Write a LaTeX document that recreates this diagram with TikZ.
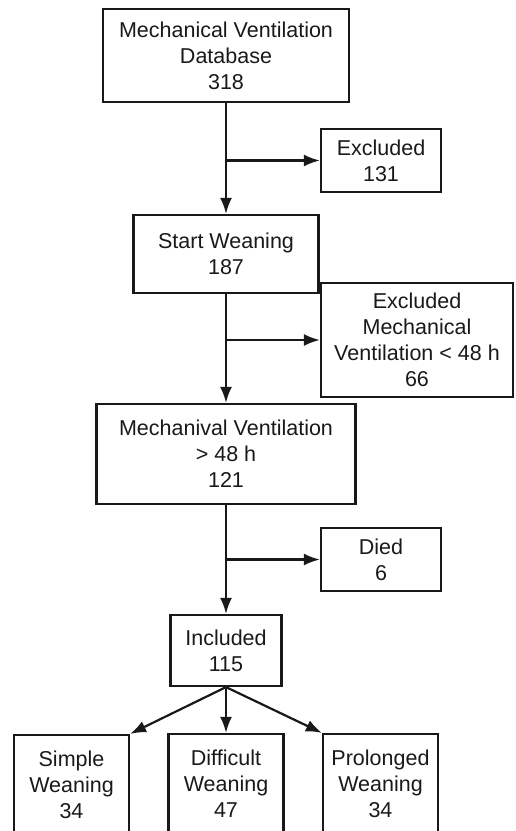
\documentclass[tikz,border=0pt]{standalone}
\usepackage{fontspec}
\setmainfont{Liberation Sans}
\usetikzlibrary{arrows.meta}
\tikzstyle{box}=[draw, line width=2.2pt, align=center, inner sep=0pt, font=\fontsize{21.5}{26}\selectfont]
\tikzstyle{flow}=[line width=2.2pt, -{Latex[length=16pt, width=12pt]}]

\begin{document}
\begin{tikzpicture}[x=1pt, y=-1pt, black!90]
\useasboundingbox (0,0) rectangle (515,831);
% Boxes
    \node[box, minimum width=246pt, minimum height=93pt] (db) at (226,55.5) {Mechanical Ventilation\\Database\\318};
    \node[box, minimum width=120pt, minimum height=63pt] (excl1) at (381,160.5) {Excluded\\131};
    \node[box, minimum width=185pt, minimum height=78pt] (start) at (226,254) {Start Weaning\\187};
    \node[box, minimum width=192pt, minimum height=114pt] (excl2) at (417,340) {Excluded\\Mechanical\\Ventilation < 48 h\\66};
    \node[box, minimum width=259pt, minimum height=100pt] (mv) at (226,454) {Mechanival Ventilation\\> 48 h\\121};
    \node[box, minimum width=120pt, minimum height=63pt] (died) at (381,559.5) {Died\\6};
    \node[box, minimum width=111pt, minimum height=71pt] (incl) at (226,650.5) {Included\\115};
    \node[box, minimum width=115pt, minimum height=100pt] (simple) at (71.5,785) {Simple\\Weaning\\34};
    \node[box, minimum width=115pt, minimum height=100pt] (difficult) at (226,784) {Difficult\\Weaning\\47};
    \node[box, minimum width=115pt, minimum height=100pt] (prolonged) at (380.5,784) {Prolonged\\Weaning\\34};
% Branch points
    \coordinate (b1) at (db.south |- excl1.west);
    \coordinate (b2) at (start.south |- excl2.west);
    \coordinate (b3) at (mv.south |- died.west);
% Main line
    \draw[flow] (db) -- (start);
    \draw[flow] (start) -- (mv);
    \draw[flow] (mv) -- (incl);
% Exclusions
    \draw[flow] (b1) -- (excl1);
    \draw[flow] (b2) -- (excl2);
    \draw[flow] (b3) -- (died);
% Groups
    \draw[flow] (incl.south) -- (simple.north east);
    \draw[flow] (incl.south) -- (difficult.north);
    \draw[flow] (incl.south) -- (prolonged.north west);
\end{tikzpicture}
\end{document}
